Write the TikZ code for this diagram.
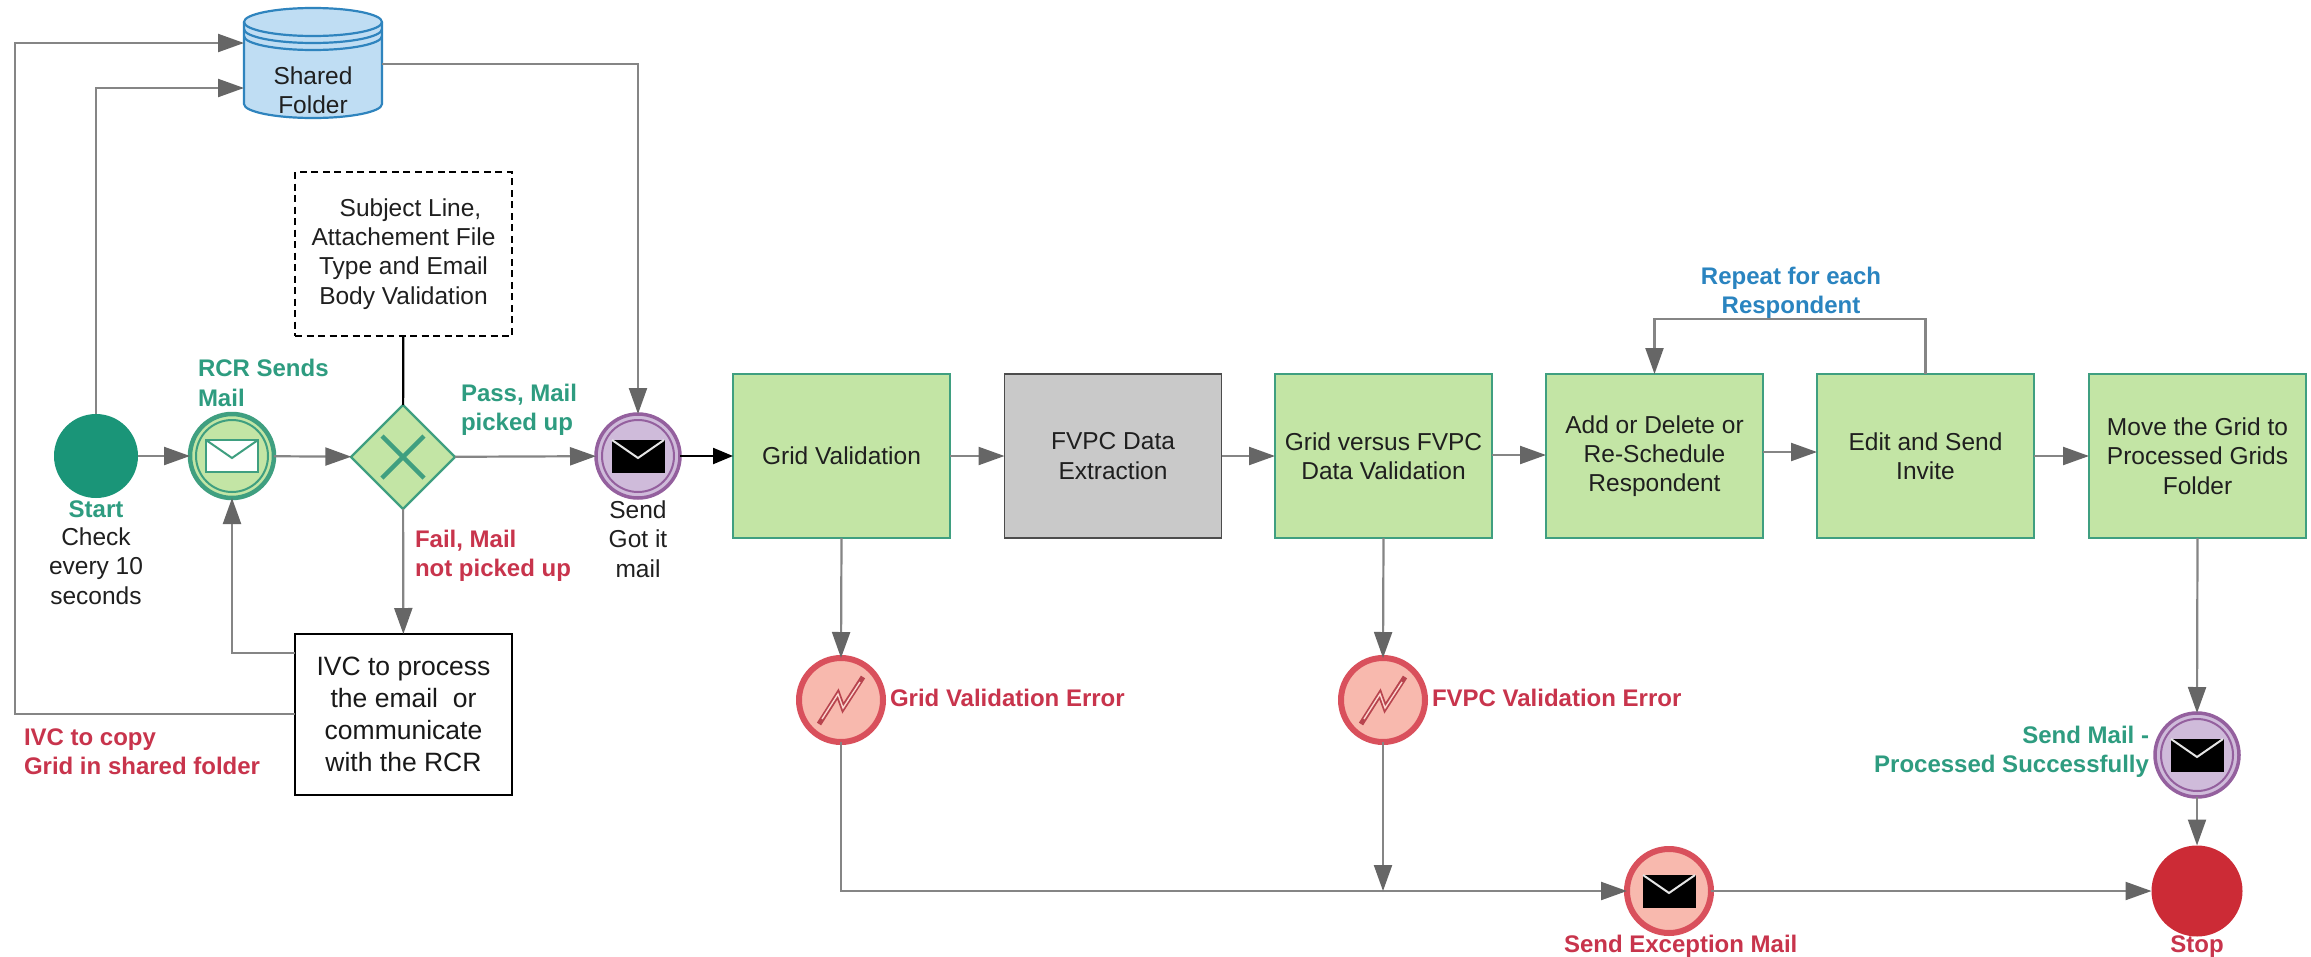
\documentclass[tikz,border=0pt]{standalone}
\usepackage{fontspec}
\setmainfont{Liberation Sans}
\usetikzlibrary{arrows.meta,shapes.geometric,calc}
\definecolor{flowgray}{HTML}{858585}
\definecolor{headgray}{HTML}{666666}
\definecolor{boxgreen}{HTML}{C3E5A5}
\definecolor{edgegreen}{HTML}{3F9F80}
\definecolor{tealtxt}{HTML}{2E9C80}
\definecolor{redtxt}{HTML}{C8344C}
\definecolor{bluetxt}{HTML}{2A84C0}
\definecolor{startfill}{HTML}{1A9578}
\definecolor{stopfill}{HTML}{CC2B36}
\definecolor{purp}{HTML}{94609E}
\definecolor{purpfill}{HTML}{CFBBDA}
\definecolor{errline}{HTML}{D9505C}
\definecolor{errfill}{HTML}{F8B9AE}
\definecolor{cylfill}{HTML}{BFDDF3}
\definecolor{cyledge}{HTML}{2F84BE}
\tikzset{
  x=1pt,y=-1pt,
  every node/.style={inner sep=0pt,outer sep=0pt},
  txt/.style={font=\fontsize{24.5}{29.3}\selectfont,align=center,text=black!88},
  big/.style={font=\fontsize{26.5}{32}\selectfont,align=center,text=black!90},
  lbl/.style={font=\fontsize{24}{29.3}\selectfont\bfseries,align=left},
  taskbox/.style={rectangle,draw=edgegreen,fill=boxgreen,line width=1.8pt,minimum width=217pt,minimum height=164pt,txt},
  graybox/.style={rectangle,draw=black!70,fill=black!21,line width=1.8pt,minimum width=217pt,minimum height=164pt,txt},
  evt/.style={circle,minimum size=84pt},
  errevt/.style={evt,draw=errline,line width=6pt,fill=errfill},
  flow/.style={draw=flowgray,line width=2.2pt,-{Triangle[length=26pt,width=18pt,color=headgray]}},
}
\newcommand\envelopeat[3]{\begin{scope}[shift={(#1)}]
  \draw[#2] (-26,-16) rectangle (26,16);
  \draw[#3] (-26,-16) -- (0,2) -- (26,-16);
\end{scope}}
\newcommand\innerring[2]{\draw[#2,line width=2pt] (#1) circle[radius=36];}
\newcommand\boltat[1]{\begin{scope}[shift={(#1)}]
  \draw[errline!85!black,line width=5pt,line join=miter] (-22,24) -- (-3,-6) -- (2,8) -- (22,-23);
  \draw[errfill!60!white,line width=1.4pt] (-19,19) -- (-3,-6) -- (2,8) -- (19,-18);
\end{scope}}
\begin{document}
\begin{tikzpicture}
\useasboundingbox (0,0) rectangle (2311,956);
\fill[white] (0,0) rectangle (2311,956);
% shared folder
\node[rectangle,minimum width=138pt,minimum height=110pt] (folder) at (313,63) {};
\fill[cylfill] (244,22) -- (244,104) arc[start angle=180,end angle=0,x radius=69,y radius=14] -- (382,22) arc[start angle=0,end angle=-180,x radius=69,y radius=14];
\draw[cyledge,line width=2.2pt] (244,22) -- (244,104) arc[start angle=180,end angle=0,x radius=69,y radius=14] -- (382,22);
\draw[cyledge,line width=2.2pt] (313,22) ellipse[x radius=69,y radius=14];
\draw[cyledge,line width=2.2pt] (244,29) arc[start angle=180,end angle=0,x radius=69,y radius=14];
\draw[cyledge,line width=2.2pt] (244,36) arc[start angle=180,end angle=0,x radius=69,y radius=14];
\node[txt] (folderlabel) at (313,90) {Shared\\Folder};
% events
\node[evt,fill=startfill] (start) at (96,456) {};
\node[evt,draw=edgegreen,line width=4.5pt,fill=boxgreen] (rcr) at (232,456) {};
\innerring{rcr}{edgegreen}
\envelopeat{rcr}{edgegreen,fill=white,line width=2pt}{edgegreen,line width=2pt}
\node[diamond,draw=edgegreen,line width=2.2pt,fill=boxgreen,minimum size=104pt] (gate) at (403,457) {};
\draw[edgegreen,line width=4.5pt] (382,436) -- (424,478) (424,436) -- (382,478);
\node[evt,draw=purp,line width=3.5pt,fill=purpfill] (gotit) at (638,456) {};
\innerring{gotit}{purp}
\envelopeat{gotit}{black,fill=black}{white!90!black,line width=2pt}
\node[rectangle,draw=black,line width=2pt,dash pattern=on 7pt off 4.5pt,minimum width=217pt,minimum height=164pt,txt] (rules) at (403.5,254) {\hspace*{14pt}Subject Line,\\Attachement File\\Type and Email\\Body Validation};
\node[rectangle,draw=black,line width=2pt,fill=white,minimum width=217pt,minimum height=161pt,big] (ivc) at (403.5,714.5) {IVC to process\\the email\ \ or\\communicate\\with the RCR};
% tasks
\node[taskbox] (grid) at (841.5,456) {Grid Validation};
\node[graybox] (extract) at (1113,456) {FVPC Data\\Extraction};
\node[taskbox] (versus) at (1383.5,456) {Grid versus FVPC\\Data Validation};
\node[taskbox] (addel) at (1654.5,456) {Add or Delete or\\Re-Schedule\\Respondent};
\node[taskbox] (edit) at (1925.5,456) {Edit and Send\\Invite};
\node[taskbox] (move) at (2197.5,456) {Move the Grid to\\Processed Grids\\Folder};
% errors
\node[errevt] (err1) at (841,700) {};
\boltat{err1}
\node[errevt] (err2) at (1383,700) {};
\boltat{err2}
\node[errevt] (exc) at (1669,891) {};
\envelopeat{exc}{black,fill=black}{white!90!black,line width=2pt}
\node[evt,draw=purp,line width=3.5pt,fill=purpfill] (done) at (2197,755) {};
\innerring{done}{purp}
\envelopeat{done}{black,fill=black}{white!90!black,line width=2pt}
\node[circle,minimum size=91pt,fill=stopfill] (stop) at (2197,891) {};
% helper coordinates
\coordinate (folderA) at (folder.west |- 0,43);
\coordinate (folderB) at (folder.west |- 0,88);
\coordinate (folderC) at (folder.east |- 0,64);
\coordinate (ivcA) at (ivc.west |- 0,653);
\coordinate (ivcB) at (ivc.west |- 0,714);
\coordinate (bendL) at (15,714);
\coordinate (bendLt) at (15,43);
\coordinate (join) at (841,891);
% connectors
\draw[flow] (start.north) -- (start.north |- folderB) -- (folderB);
\draw[flow] (ivcB) -- (bendL) -- (bendLt) -- (folderA);
\draw[flow] (folderC) -- (gotit.north |- folderC) -- (gotit.north);
\draw[flow] (start) -- (rcr);
\draw[flow] (rcr) -- (gate);
\draw[flow] (gate) -- (gotit);
\draw[line width=2.2pt,draw=black,-{Triangle[length=20pt,width=16pt,color=black]}] (gotit.east) -- (grid.west |- gotit.east);
\draw[line width=2.2pt,draw=black] (rules) -- (gate);
\draw[flow] (gate) -- (ivc);
\draw[flow] (ivcA) -- (rcr.south |- ivcA) -- (rcr.south);
\draw[flow] (grid.east) -- (extract.west);
\draw[flow] (extract.east) -- (versus.west);
\draw[flow] ($(versus.east)+(0,-1)$) -- ($(addel.west)+(0,-1)$);
\draw[flow] ($(addel.east)+(0,-4)$) -- ($(edit.west)+(0,-4)$);
\draw[flow] (edit.east) -- (move.west);
\draw[flow] (edit.north) -- (edit.north |- 0,319) -- (addel.north |- 0,319) -- (addel.north);
\draw[flow] (grid.south) -- (err1.north);
\draw[flow] (versus.south) -- (err2.north);
\draw[flow] (move.south) -- (done.north);
\draw[flow] (done.south) -- (stop.north);
\draw[flow] (err1.south) -- (join) -- (exc.west);
\draw[flow] (err2.south) -- (err2.south |- exc.west);
\draw[flow] (exc.east) -- (stop.west);
% labels
\node[lbl,text=tealtxt,anchor=west] (t1) at (198,383) {RCR Sends\\Mail};
\node[lbl,text=tealtxt,anchor=west] (t2) at (461,410) {Pass, Mail\\picked up};
\node[lbl,text=redtxt,anchor=west] (t3) at (415,556) {Fail, Mail\\not picked up};
\node[lbl,text=redtxt,anchor=west] (t4) at (24,752) {IVC to copy\\Grid in shared folder};
\node[lbl,text=tealtxt] (t5) at (96,509) {Start};
\node[txt] (t6) at (96,566) {Check\\every 10\\seconds};
\node[txt] (t7) at (638,539) {Send\\Got it\\mail};
\node[lbl,text=bluetxt,align=center] (t8) at (1791,293) {Repeat for each\\Respondent};
\node[lbl,text=redtxt,anchor=west] (t9) at (890,698) {Grid Validation Error};
\node[lbl,text=redtxt,anchor=west] (t10) at (1432,698) {FVPC Validation Error};
\node[lbl,text=redtxt,anchor=west] (t11) at (1564,946) {Send Exception Mail};
\node[lbl,text=redtxt] (t12) at (2197,947) {Stop};
\node[lbl,text=tealtxt,anchor=east,align=right] (t13) at (2149,752) {Send Mail -\\Processed Successfully};
\end{tikzpicture}
\end{document}
